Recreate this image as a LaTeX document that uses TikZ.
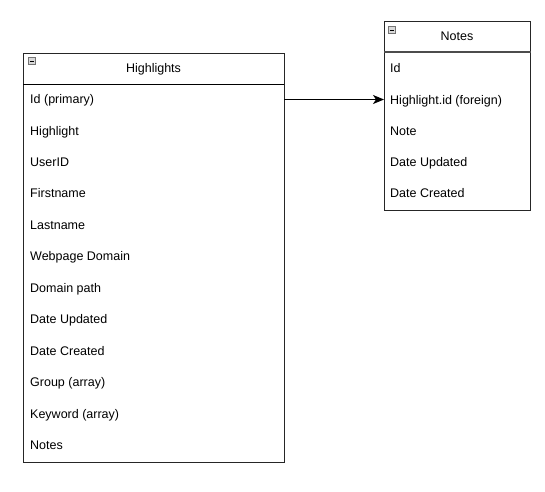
\documentclass[tikz,border=0pt]{standalone}
\usepackage{fontspec}
\setmainfont{Liberation Sans}
\usetikzlibrary{arrows.meta}

\begin{document}
\begin{tikzpicture}[x=1pt, y=-1pt,
        tablebox/.style={draw=black!85, line width=0.9pt, fill=white},
        rowtext/.style={anchor=base west, inner sep=0pt, yshift=-4.5pt, font=\fontsize{12.5}{14}\selectfont},
        headtext/.style={anchor=base, inner sep=0pt, yshift=-4.5pt, font=\fontsize{12.5}{14}\selectfont},
        minusbox/.style={draw=black!55, fill=black!15, line width=0.5pt}]
        \useasboundingbox (0, 0) rectangle (545, 491);
        % Highlights table
        \coordinate (h1) at (23, 53);
        \coordinate (h2) at (284, 462);
        \draw[tablebox] (h1) rectangle (h2);
        \draw[black, line width=1pt] (23, 84.5) -- (284, 84.5);
        \draw[minusbox] (28.5, 57.5) rectangle (35.5, 64.5);
        \draw[black, line width=0.8pt] (29.8, 61) -- (34.2, 61);
        \node[headtext] (hh) at (153.5, 68) {Highlights};
        \node[rowtext] (hid) at (30, 99) {Id (primary)};
        \node[rowtext] (hhl) at (30, 130.5) {Highlight};
        \node[rowtext] (huser) at (30, 161.5) {UserID};
        \node[rowtext] (hfirst) at (30, 193) {Firstname};
        \node[rowtext] (hlast) at (30, 224.5) {Lastname};
        \node[rowtext] (hweb) at (30, 256) {Webpage Domain};
        \node[rowtext] (hpath) at (30, 287.5) {Domain path};
        \node[rowtext] (hupd) at (30, 319) {Date Updated};
        \node[rowtext] (hcre) at (30, 350.5) {Date Created};
        \node[rowtext] (hgrp) at (30, 382) {Group (array)};
        \node[rowtext] (hkey) at (30, 413.5) {Keyword (array)};
        \node[rowtext] (hnotes) at (30, 445) {Notes};
        \coordinate (hout) at (284, 99.5);
        % Notes table
        \coordinate (n1) at (384, 21);
        \coordinate (n2) at (530.5, 210);
        \draw[tablebox] (n1) rectangle (n2);
        \draw[black!70, line width=1.4pt] (384, 52) -- (530.5, 52);
        \draw[minusbox] (388.5, 26.5) rectangle (395.5, 33.5);
        \draw[black, line width=0.8pt] (389.8, 30) -- (394.2, 30);
        \node[headtext] (nh) at (457, 36) {Notes};
        \node[rowtext] (nid) at (390, 68) {Id};
        \node[rowtext] (nfk) at (390, 99.5) {Highlight.id (foreign)};
        \node[rowtext] (nnote) at (390, 130.5) {Note};
        \node[rowtext] (nupd) at (390, 161.5) {Date Updated};
        \node[rowtext] (ncre) at (390, 193) {Date Created};
        \coordinate (nin) at (384, 99.5);
        % relation
        \draw[black, line width=0.9pt, -{Stealth[length=11pt, width=9pt, inset=3pt]}] (hout) -- (nin);
\end{tikzpicture}
\end{document}
